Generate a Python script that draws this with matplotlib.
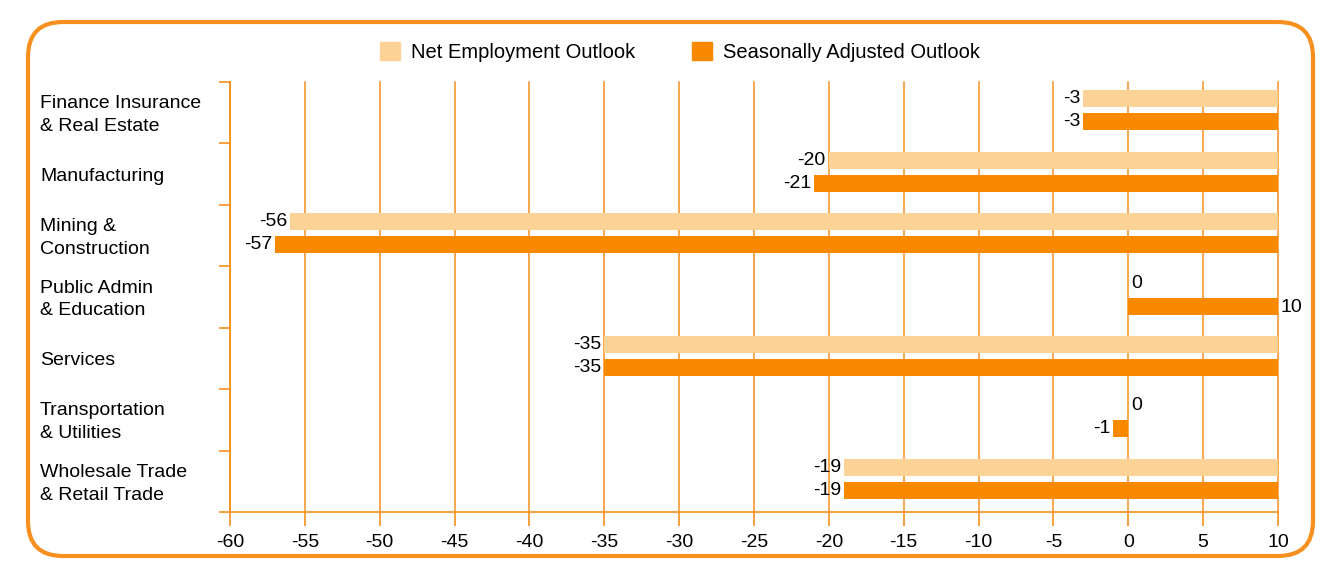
import matplotlib
matplotlib.use("Agg")
from matplotlib import pyplot as plt
from matplotlib.patches import FancyBboxPatch, Patch
from matplotlib.transforms import blended_transform_factory

categories = [
    "Finance Insurance\n& Real Estate",
    "Manufacturing",
    "Mining &\nConstruction",
    "Public Admin\n& Education",
    "Services",
    "Transportation\n& Utilities",
    "Wholesale Trade\n& Retail Trade",
]
net_outlook = [-3, -20, -56, 0, -35, 0, -19]
seasonal_outlook = [-3, -21, -57, 10, -35, -1, -19]
series_names = ["Net Employment Outlook", "Seasonally Adjusted Outlook"]
x_ticks = list(range(-60, 15, 5))

ORANGE = "#F7901E"
LIGHT = "#FDD296"
DARK = "#F98A00"
plt.rcParams["font.family"] = ["Liberation Sans", "DejaVu Sans"]

fig = plt.figure(figsize=(13.42, 5.84), dpi=100)
ax = fig.add_axes([0.1714, 0.1233, 0.7809, 0.7363])

xmin, xmax = x_ticks[0], x_ticks[-1]
offset = 0.187
height = 0.276
shift = -0.04


def span(value, partner):
    # the source chart anchors bars at the axis end, or at zero when the row has a zero entry
    if value == 0:
        return None
    if partner == 0:
        return (min(value, 0), max(value, 0))
    return (value, xmax)


for i, (a, b) in enumerate(zip(net_outlook, seasonal_outlook)):
    for val, other, dy, col in ((a, b, -offset, LIGHT), (b, a, offset, DARK)):
        y = i + dy + shift
        s = span(val, other)
        if s is not None:
            ax.barh(y, s[1] - s[0], left=s[0], height=height, color=col, zorder=3)
        if val < 0:
            ax.text(val - 0.2, y, str(val), ha="right", va="center", fontsize=14, zorder=4)
        else:
            ax.text(val + 0.2, y + (0.03 if val > 0 else 0), str(val),
                    ha="left", va="center", fontsize=14, zorder=4)

ax.set_xlim(xmin, xmax)
ax.set_ylim(len(categories) - 0.5, -0.5)
ax.set_xticks(x_ticks)
ax.set_xticklabels([str(t) for t in x_ticks], fontsize=14)
ax.set_yticks([i - 0.5 for i in range(len(categories) + 1)])
ax.set_yticklabels([])
ax.tick_params(axis="x", colors=ORANGE, labelcolor="black", length=10, width=1.2, pad=6)
ax.tick_params(axis="y", colors=ORANGE, length=8, width=1.2)
ax.grid(axis="x", color=ORANGE, lw=1.1, zorder=0, clip_on=False)
ax.set_axisbelow(True)
for side in ("top", "right"):
    ax.spines[side].set_visible(False)
for side in ("left", "bottom"):
    ax.spines[side].set_color(ORANGE)
    ax.spines[side].set_linewidth(1.2)

trans = blended_transform_factory(fig.transFigure, ax.transData)
for i, name in enumerate(categories):
    ax.text(40 / 1342, i + 0.04, name, transform=trans, ha="left", va="center",
            fontsize=14, linespacing=1.45)

handles = [Patch(color=LIGHT), Patch(color=DARK)]
fig.legend(handles, series_names, loc="center", bbox_to_anchor=(0.5067, 0.911), ncol=2,
           frameon=False, fontsize=14.5, handlelength=1.0, handleheight=1.0,
           handletextpad=0.55, columnspacing=2.8)

border = FancyBboxPatch((0.28, 0.28), 12.85, 5.34, boxstyle="round,pad=0,rounding_size=0.35",
                        transform=fig.dpi_scale_trans, fill=False, ec=ORANGE, lw=3)
fig.patches.append(border)

fig.savefig("out.png", dpi=100)
